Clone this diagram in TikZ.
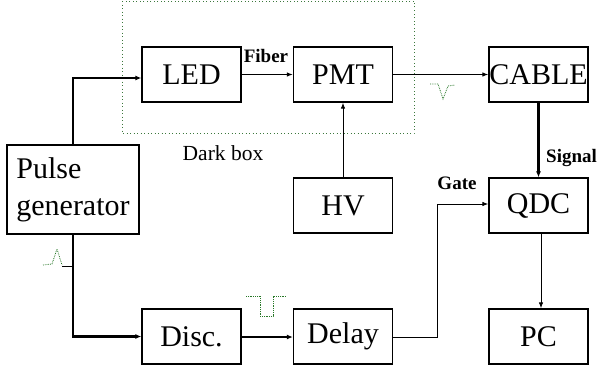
\documentclass[tikz,border=0pt]{standalone}
\usepackage{fontspec}
\setmainfont{Liberation Serif}
\usetikzlibrary{arrows.meta,calc}
\newcommand{\lowtxt}[1]{\raisebox{-4pt}{#1}}
\begin{document}
\begin{tikzpicture}[x=1pt,y=-1pt,
  box/.style={draw,line width=1.3pt,minimum width=99pt,minimum height=55pt,inner sep=0pt,font=\fontsize{30}{36}\selectfont},
  lab/.style={inner sep=0pt,font=\fontsize{19}{22}\selectfont\bfseries},
  thin/.style={line width=0.9pt,-{Latex[length=6pt,width=4.5pt]}},
  thk/.style={line width=2.2pt,-{Latex[length=6pt,width=5pt]}},
  wave/.style={line width=0.8pt,densely dotted,draw={rgb,255:red,40;green,120;blue,40}},
  darkbox/.style={line width=1pt,dash pattern=on 1pt off 2.5pt,draw={rgb,255:red,60;green,120;blue,60}}]
\useasboundingbox (0,0) rectangle (601,372);
\draw[darkbox] (122,1) rectangle (414,133);
\node[box] (led) at (191.5,74.5) {\lowtxt{LED}};
\node[box] (pmt) at (343,74.5) {\lowtxt{PMT}};
\node[box] (cable) at (538.5,74.5) {\lowtxt{CABLE}};
\node[box,minimum width=132pt,minimum height=89pt,align=left,font=\fontsize{30}{37}\selectfont] (pg) at (73,189.5) {Pulse\\generator};
\node[box] (hv) at (343,205.5) {\raisebox{-2pt}{HV}};
\node[box] (qdc) at (538.5,205.5) {QDC};
\node[box] (disc) at (191.5,336.5) {Disc.};
\node[box] (delay) at (343,336.5) {Delay};
\node[box] (pc) at (538.5,336.5) {PC};
\node[lab] (fiber) at (266,56) {Fiber};
\node[inner sep=0pt,font=\fontsize{21.5}{24}\selectfont] (dark) at (223,153) {Dark box};
\node[lab,anchor=west] (signal) at (546,158) {Signal};
\node[lab] (gate) at (457,183) {Gate};
\coordinate (g1) at (437,337);
\draw[thk] (pg.north) |- ($(led.west)+(0,3.5)$);
\draw[thin] (led.east) -- (pmt.west);
\draw[thin] (pmt.east) -- (cable.west);
\draw[thk] (cable.south) -- (qdc.north);
\draw[thin] (hv.north) -- (pmt.south);
\draw[thk] (pg.south) |- (disc.west);
\draw[thk] ($(disc.east)+(0,0.5)$) -- ($(delay.west)+(0,0.5)$);
\draw[thin] ($(delay.east)+(0,0.5)$) -- (g1) |- ($(qdc.west)+(0,-1.5)$);
\draw[thin] ($(qdc.south)+(2.5,0)$) -- ($(pc.north)+(2.5,0)$);
\draw[wave] (43,265) -- (52,264) -- (57,249) -- (62,265);
\draw[line width=1pt] (62,266) -- (72,266);
\draw[wave] (430,84) -- (438,84) -- (443,99) -- (448,86) -- (455,85);
\draw[wave] (246,296) -- (260,296) -- (260,316) -- (273,316) -- (273,296) -- (286,296);
\end{tikzpicture}
\end{document}
